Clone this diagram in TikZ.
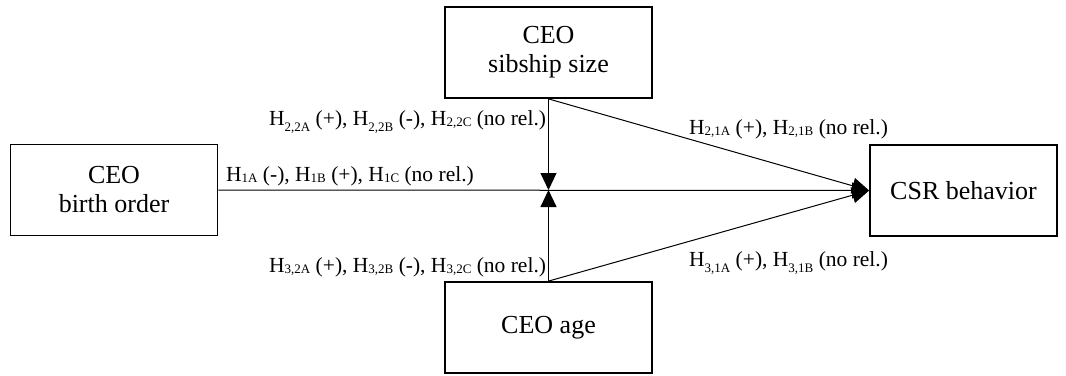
\documentclass[tikz,border=0pt]{standalone}
\usepackage{fontspec}
\setmainfont{Liberation Serif}
\usetikzlibrary{arrows.meta}
\newcommand{\lo}[1]{\raisebox{-6pt}{\fontsize{13}{13}\selectfont #1}}
\newcommand{\sm}[1]{\raisebox{-1pt}{\fontsize{13}{13}\selectfont #1}}
\begin{document}
\begin{tikzpicture}[x=1pt,y=-1pt,
 box/.style={draw, line width=1.8pt, minimum width=207pt, minimum height=91pt, inner sep=0pt, align=center, font=\fontsize{26}{29}\selectfont},
 conn/.style={line width=1pt},
 tip/.style={-{Triangle[length=17pt,width=16pt]}},
 lab/.style={anchor=base west, inner sep=0pt, font=\fontsize{21.5}{24}\selectfont}]
\useasboundingbox (0,0) rectangle (1066,375);
\node[box] (birth) at (114,190) {CEO\\birth order};
\node[box] (sib) at (548.5,52.5) {CEO\\sibship size};
\node[box] (age) at (548.5,327.5) {CEO age};
\node[box, minimum width=187pt] (csr) at (963.5,190.5) {CSR behavior};
\coordinate (j) at (548.5,190);
\draw[conn,tip] (sib.south) -- (j);
\draw[conn,tip] (age.north) -- (j);
\draw[conn,tip] (birth.east) -- (csr.west);
\draw[conn,tip] (sib.south) -- (csr.west);
\draw[conn,tip] (age.north) -- (csr.west);
\node[lab] (l22) at (269,125) {H\lo{2,2A} (+), H\lo{2,2B} (-), H\sm{2,2C} (no rel.)};
\node[lab] (l1) at (226,181) {H\sm{1A} (-), H\sm{1B} (+), H\sm{1C} (no rel.)};
\node[lab] (l32) at (269,272) {H\sm{3,2A} (+), H\sm{3,2B} (-), H\sm{3,2C} (no rel.)};
\node[lab] (l21) at (689,134) {H\sm{2,1A} (+), H\sm{2,1B} (no rel.)};
\node[lab] (l31) at (689,266) {H\lo{3,1A} (+), H\lo{3,1B} (no rel.)};
\end{tikzpicture}
\end{document}
